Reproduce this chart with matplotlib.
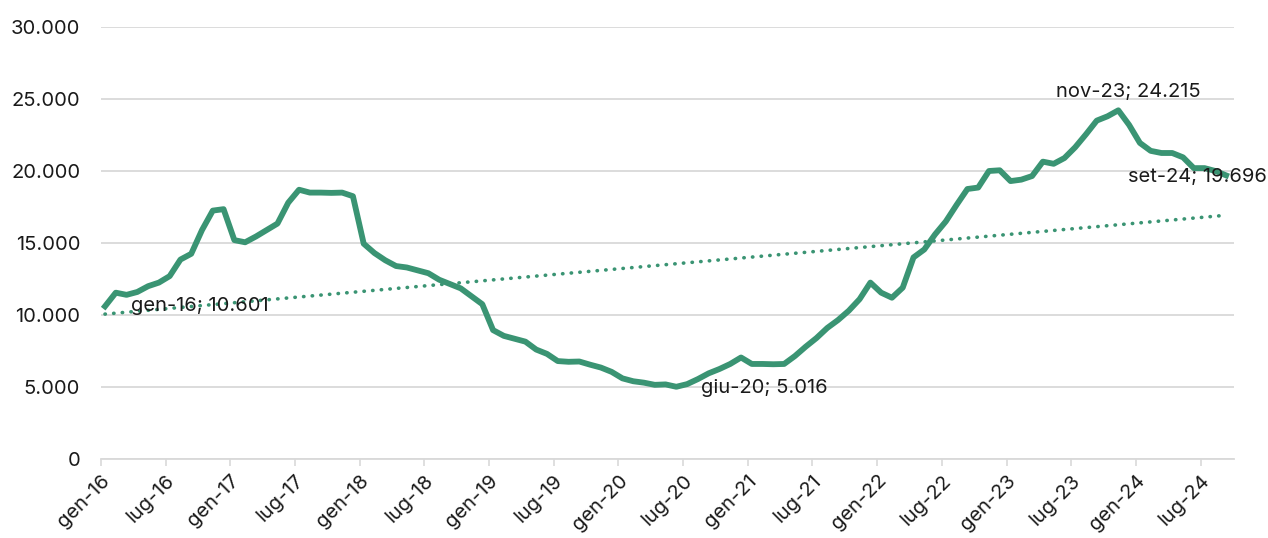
import numpy as np
import matplotlib
matplotlib.use("Agg")
import matplotlib.pyplot as plt

# monthly values gen-16 .. set-24
values = [10601, 11550, 11400, 11600, 12000, 12250, 12700, 13850, 14250, 15900, 17250, 17350,
          15200, 15050, 15450, 15900, 16350, 17800, 18700, 18500, 18500, 18480, 18500, 18250,
          14950, 14300, 13800, 13400, 13300, 13100, 12900, 12450, 12150, 11850, 11300, 10750,
          8950, 8550, 8350, 8150, 7600, 7300, 6800, 6750, 6770, 6550, 6350, 6050,
          5600, 5400, 5300, 5150, 5180, 5016, 5200, 5550, 5950, 6250, 6600, 7050,
          6600, 6600, 6580, 6600, 7150, 7800, 8400, 9100, 9650, 10300, 11100, 12250,
          11550, 11200, 11900, 14000, 14550, 15600, 16500, 17650, 18750, 18850, 20000, 20050,
          19300, 19400, 19650, 20650, 20500, 20900, 21650, 22550, 23500, 23800, 24215, 23200,
          21950, 21400, 21250, 21250, 20950, 20200, 20200, 20000, 19696]
tick_labels = ["gen-16", "lug-16", "gen-17", "lug-17", "gen-18", "lug-18", "gen-19", "lug-19",
               "gen-20", "lug-20", "gen-21", "lug-21", "gen-22", "lug-22", "gen-23", "lug-23",
               "gen-24", "lug-24"]
# labelled points: (index, text)
labels = [(0, "gen-16; 10.601"), (53, "giu-20; 5.016"), (94, "nov-23; 24.215"), (104, "set-24; 19.696")]
label_offsets = [(68, 0), (63, -1), (7, 13), (-21, -1)]

green = "#3a9473"
plt.rcParams['font.family'] = ['Inter', 'DejaVu Sans']

x = np.arange(len(values))
y = np.array(values)

fig = plt.figure(figsize=(12.68, 5.38), dpi=100)
ax = fig.add_axes([101/1268, 1 - 459/538, (1234-101)/1268, (459-27)/538])

ax.plot(x, y, color=green, lw=4.2, solid_joinstyle='round', zorder=3)

# linear trend
k, b = np.polyfit(x, y, 1)
ax.plot(x, k*x + b, color=green, lw=2.6, linestyle=(0, (0.1, 2.3)),
        dash_capstyle='round', zorder=2)

for (i, txt), (dx, dy) in zip(labels, label_offsets):
    ax.annotate(txt, (x[i], y[i]), xytext=(dx, dy), textcoords='offset points',
                ha='center', va='center', fontsize=14.5, color='#1a1a1a',
                annotation_clip=False, zorder=4)

ax.set_ylim(0, 30000)
ax.set_xlim(-0.37, 104.73)
ax.set_yticks(np.arange(0, 30001, 5000))
ax.set_yticklabels([f"{v:,}".replace(",", ".") for v in range(0, 30001, 5000)])
ax.set_xticks(np.arange(0, 105, 6) - 0.37)
ax.set_xticklabels(tick_labels, rotation=45, ha='right', rotation_mode='anchor')

ax.grid(axis='y', color='#d9d9d9', lw=1.3)
ax.set_axisbelow(True)
for s in ['top', 'right', 'left']:
    ax.spines[s].set_visible(False)
ax.spines['bottom'].set_color('#d9d9d9')
ax.spines['bottom'].set_linewidth(1.3)
ax.tick_params(axis='y', length=0, pad=15, labelsize=14.5, labelcolor='#1a1a1a')
ax.tick_params(axis='x', length=5, width=1.2, color='#d9d9d9', pad=4,
               labelsize=14.5, labelcolor='#1a1a1a')

fig.savefig("out.png", dpi=100)
